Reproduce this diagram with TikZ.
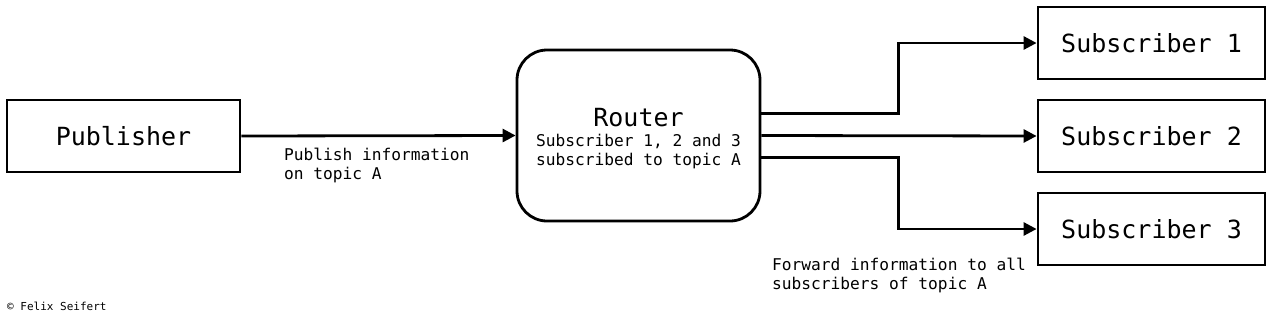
\documentclass[tikz,border=0pt]{standalone}
\usepackage{fontspec}
\setmainfont{DejaVu Sans Mono}
\usetikzlibrary{arrows.meta}
\begin{document}
\begin{tikzpicture}[x=1pt,y=-1pt,
  box/.style={draw,line width=2.8pt,rectangle,minimum width=233pt,minimum height=72pt,inner sep=0pt,font=\fontsize{25}{29}\selectfont},
  sbox/.style={box,minimum width=227pt},
  conn/.style={line width=2.8pt,-{Triangle[length=13pt,width=13pt]}},
  lbl/.style={anchor=north west,align=left,inner sep=0pt,font=\fontsize{16.2}{18.5}\selectfont}]
\useasboundingbox (0,0) rectangle (1280,316);
\node[box] (pub) at (123.5,136) {Publisher};
\node[draw,line width=2.8pt,rounded corners=30pt,minimum width=243pt,minimum height=171pt,inner sep=0pt] (router) at (638.5,135.5) {};
\node[align=center,inner sep=0pt,font=\fontsize{16.2}{18.5}\selectfont] (rtext) at ([yshift=-3pt]router.center)
  {{\fontsize{25}{29}\selectfont Router}\\[2pt]Subscriber 1, 2 and 3\\subscribed to topic A};
\node[sbox] (s1) at (1151.5,43) {Subscriber 1};
\node[sbox] (s2) at (1151.5,136) {Subscriber 2};
\node[sbox] (s3) at (1151.5,229) {Subscriber 3};
\draw[conn] (pub.east) -- (router.west);
\draw[conn] ([yshift=22pt]router.east) -- ++(137,0) |- (s1.west);
\draw[conn] (router.east) -- (s2.west);
\draw[conn] ([yshift=-22pt]router.east) -- ++(137,0) |- (s3.west);
\node[lbl] (l1) at (284,148) {Publish information\\on topic A};
\node[lbl] (l2) at (772,258) {Forward information to all\\subscribers of topic A};
\node[anchor=north west,inner sep=0pt,font=\fontsize{11}{12}\selectfont] (c) at (7,302) {© Felix Seifert};
\end{tikzpicture}
\end{document}
